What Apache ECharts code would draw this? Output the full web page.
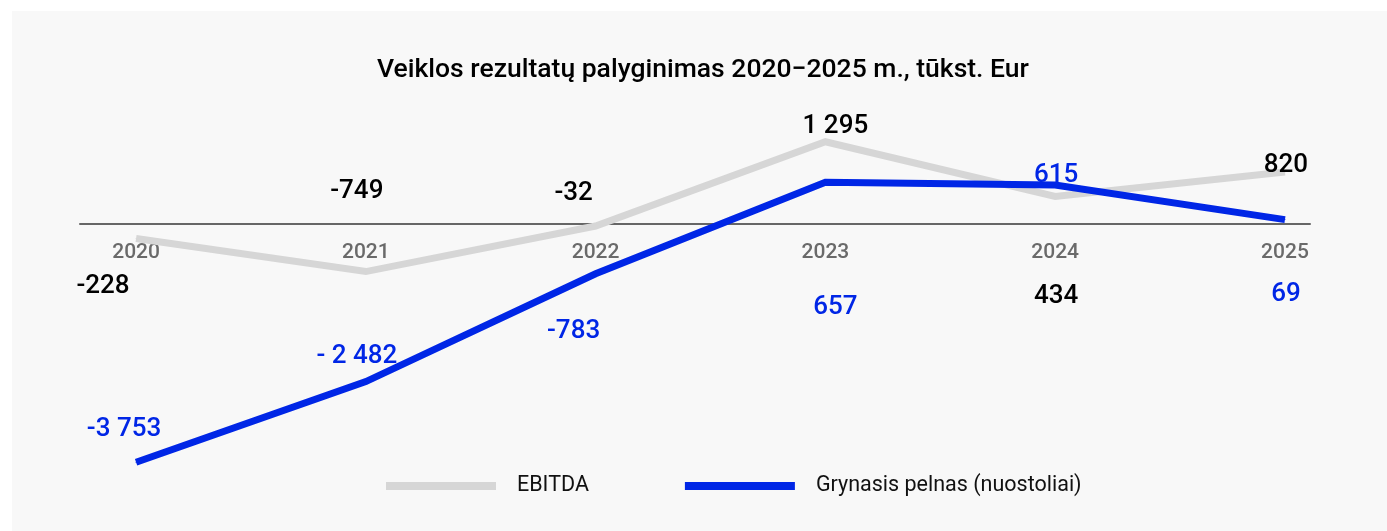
<!DOCTYPE html>
<html>
<head>
<meta charset="utf-8">
<script src="https://cdn.jsdelivr.net/npm/echarts@6/dist/echarts.min.js"></script>
<style>
html,body{margin:0;padding:0;background:#fff;}
#chart{width:1387px;height:531px;}
</style>
</head>
<body>
<div id="chart"></div>
<script>
// ---- data ----
const years = [2020, 2021, 2022, 2023, 2024, 2025];
const ebitda = [-228, -749, -32, 1295, 434, 820];
const netProfit = [-3753, -2482, -783, 657, 615, 69];
const ebitdaText = ['-228', '-749', '-32', '1 295', '434', '820'];
const netText = ['-3 753', '- 2 482', '-783', '657', '615', '69'];
const seriesNames = ['EBITDA', 'Grynasis pelnas (nuostoliai)'];
const titleText = 'Veiklos rezultatų palyginimas 2020\u22122025 m., tūkst. Eur';

// label placement (style only)
const ebitdaOffsets = [[-33, 48], [-9, -80], [-22, -33], [10, -15], [1, 100], [1, -6]];
const netOffsets = [[-12, -33], [-9, -25], [-22, 58], [10, 125], [1, -9], [1, 75]];

const BLUE = '#0026e6';
const GRAY = '#d6d6d6';
const FONT = 'Roboto, "Noto Sans", sans-serif';

function build(values, texts, offsets, color) {
  return values.map((v, i) => ({
    value: [years[i], v],
    label: {
      show: true,
      position: 'inside',
      offset: offsets[i],
      formatter: texts[i],
      color: color,
      fontSize: 26,
      fontWeight: 500,
      fontFamily: FONT
    }
  }));
}

const chart = echarts.init(document.getElementById('chart'), null, {renderer: 'canvas'});
chart.setOption({
  backgroundColor: '#ffffff',
  animation: false,
  graphic: [{
    type: 'rect', left: 12, top: 11, z: -10, silent: true,
    shape: {width: 1375, height: 520},
    style: {fill: '#f8f8f8'}
  }],
  title: {
    text: titleText,
    left: 377,
    top: 57,
    padding: 0,
    textStyle: {fontSize: 26.5, fontWeight: 500, color: '#000', fontFamily: FONT}
  },
  legend: {
    data: seriesNames,
    left: 386,
    top: 475,
    icon: 'rect',
    itemWidth: 110,
    itemHeight: 8,
    itemGap: 96,
    padding: 0,
    textStyle: {fontSize: 21.5, color: '#111', fontFamily: FONT, padding: [0, 0, 0, 16]}
  },
  grid: {left: 80, right: 77, top: 97, bottom: 53, containLabel: false},
  xAxis: {
    type: 'value',
    min: 2019.756,
    max: 2025.109,
    offset: -254,
    axisLine: {show: true, onZero: false, lineStyle: {color: '#666', width: 2}},
    axisTick: {show: false},
    splitLine: {show: false},
    axisLabel: {
      customValues: years,
      showMinLabel: true, showMaxLabel: true,
      formatter: v => String(v),
      color: '#6a6a6a', fontSize: 21, fontWeight: 500, fontFamily: FONT, margin: 18
    }
  },
  yAxis: {
    type: 'value', min: -4000, max: 2000, show: false,
    splitLine: {show: false}
  },
  series: [
    {
      name: seriesNames[0], type: 'line', z: 2,
      data: build(ebitda, ebitdaText, ebitdaOffsets, '#000'),
      symbol: 'circle', symbolSize: 1,
      itemStyle: {color: GRAY},
      lineStyle: {color: GRAY, width: 7, cap: 'butt', join: 'miter'}
    },
    {
      name: seriesNames[1], type: 'line', z: 3,
      data: build(netProfit, netText, netOffsets, BLUE),
      symbol: 'circle', symbolSize: 1,
      itemStyle: {color: BLUE},
      lineStyle: {color: BLUE, width: 7, cap: 'butt', join: 'miter'}
    }
  ]
});
</script>
</body>
</html>
